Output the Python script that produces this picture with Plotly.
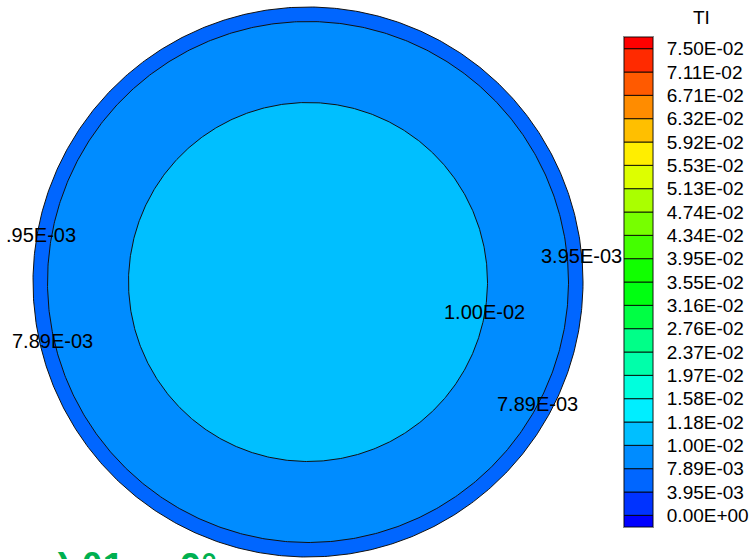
import numpy as np
import plotly.graph_objects as go

# ---- data ----
tick_labels = ["0.00E+00", "3.95E-03", "7.89E-03", "1.00E-02", "1.18E-02", "1.58E-02",
               "1.97E-02", "2.37E-02", "2.76E-02", "3.16E-02", "3.55E-02", "3.95E-02",
               "4.34E-02", "4.74E-02", "5.13E-02", "5.53E-02", "5.92E-02", "6.32E-02",
               "6.71E-02", "7.11E-02", "7.50E-02"]
# band colours from below the minimum to above the maximum
band_colors = ["#0000FF", "#0033FF", "#0066FF", "#008CFF", "#00BFFF", "#00EEFF",
               "#00FFDD", "#00FFAA", "#00FF88", "#00FF44", "#00FF11", "#11FF00",
               "#44FF00", "#77FF00", "#AAFF00", "#DDFF00", "#FFEE00", "#FFBF00",
               "#FF8C00", "#FF5A00", "#FF2A00", "#FF0000"]
# contour regions of the circular section: radius and band index
region_radius = [275, 260.5, 179.5]
region_band = [2, 3, 4]
# contour labels
label_text = [".95E-03", "7.89E-03", "3.95E-03", "1.00E-02", "7.89E-03"]
label_x = [-267, -256, 273, 176, 229]
label_y = [47, -59, 26, -30, -122]

FONT = "Liberation Sans, Arial, sans-serif"
W, H = 750, 559

fig = go.Figure()

theta = np.linspace(0, 2 * np.pi, 721)
for r, b in zip(region_radius, region_band):
    fig.add_trace(go.Scatter(
        x=r * np.cos(theta), y=r * np.sin(theta), mode="lines",
        fill="toself", fillcolor=band_colors[b],
        line=dict(color="#111111", width=1), hoverinfo="skip",
        showlegend=False, xaxis="x", yaxis="y"))

# legend colour bar built from bars
n = len(band_colors)
bases = [-0.5] + list(range(0, n - 2)) + [n - 2]
heights = [0.5] + [1] * (n - 2) + [0.5]
fig.add_trace(go.Bar(
    x=[0] * n, y=heights, base=bases, width=1,
    marker=dict(color=band_colors, line=dict(color="rgba(0,0,0,0.85)", width=1)),
    showlegend=False, hoverinfo="skip", xaxis="x2", yaxis="y2"))

for t, x, y in zip(label_text, label_x, label_y):
    fig.add_annotation(x=x, y=y, xref="x", yref="y", text=t, showarrow=False,
                       font=dict(family=FONT, size=20, color="black"),
                       xanchor="center", yanchor="middle")

fig.add_annotation(x=701 / W, y=1 - 18 / H, xref="paper", yref="paper", text="TI",
                   showarrow=False, font=dict(family=FONT, size=19, color="black"),
                   xanchor="center", yanchor="middle")

fig.add_annotation(x=34 / W, y=1 - 543 / H, xref="paper", yref="paper",
                   text="<b>a) θ1 =  0°</b>", showarrow=False,
                   font=dict(family=FONT, size=39, color="#00B050"),
                   xanchor="left", yanchor="top")

fig.update_layout(
    width=W, height=H, margin=dict(l=0, r=0, t=0, b=0, autoexpand=False),
    paper_bgcolor="white", plot_bgcolor="rgba(0,0,0,0)",
    xaxis=dict(domain=[0, 615 / W], range=[-308, 307], visible=False, automargin=False),
    yaxis=dict(domain=[0, 1], range=[-277, 282], visible=False, automargin=False),
    xaxis2=dict(domain=[624 / W, 653 / W], range=[-0.5, 0.5], anchor="y2",
                showgrid=False, zeroline=False, showticklabels=False, automargin=False,
                showline=True, mirror=True, linecolor="#888888", linewidth=1),
    yaxis2=dict(domain=[1 - 527 / H, 1 - 37 / H], range=[-0.5, n - 1.5], anchor="x2",
                side="right", tickvals=list(range(len(tick_labels))), ticktext=tick_labels,
                showgrid=False, zeroline=False, ticks="", ticklabelstandoff=9,
                automargin=False,
                tickfont=dict(family=FONT, size=19, color="black"),
                showline=True, mirror=True, linecolor="#888888", linewidth=1),
    showlegend=False,
)

fig.write_html("out.html", config={"displayModeBar": False},
               post_script="document.body.style.margin='0';document.body.style.overflow='hidden';")
